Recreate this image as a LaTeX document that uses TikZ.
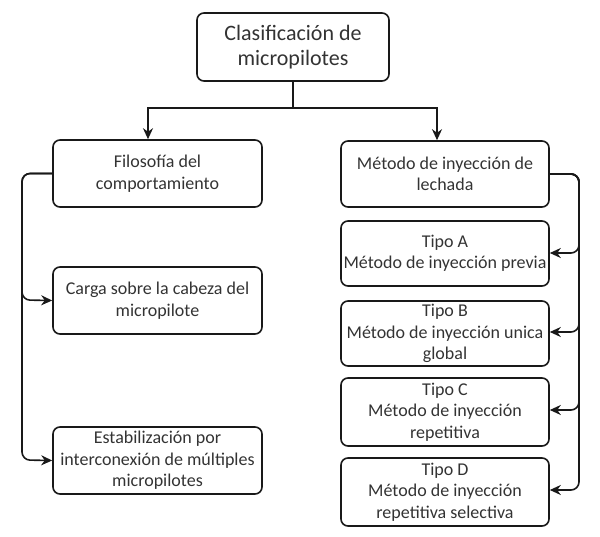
\documentclass[tikz,border=0pt]{standalone}
\usepackage{fontspec}
\setmainfont{Carlito}
\usetikzlibrary{arrows.meta}
\begin{document}
\begin{tikzpicture}[x=1pt,y=-1pt,
  box/.style={draw=black!90, line width=1.6pt, rounded corners=7pt, align=center, inner sep=0pt, font=\fontsize{18}{21.5}\selectfont, text=black!80},
  conn/.style={draw=black!90, line width=1.6pt, rounded corners=8pt, -{Stealth[length=11pt,width=10pt]}},
  link/.style={draw=black!90, line width=1.6pt}]
\useasboundingbox (0,0) rectangle (600,537);
\node[box, minimum width=192pt, minimum height=68pt, font=\fontsize{22}{25}\selectfont] (top) at (293,47) {Clasificación de\\micropilotes};
\node[box, minimum width=209pt, minimum height=67pt] (fil) at (157.5,173.5) {Filosofía del\\comportamiento};
\node[box, minimum width=209pt, minimum height=67pt] (car) at (157.5,300.5) {Carga sobre la cabeza del\\micropilote};
\node[box, minimum width=209pt, minimum height=67pt] (est) at (157.5,460.5) {Estabilización por\\interconexión de múltiples\\micropilotes};
\node[box, minimum width=208pt, minimum height=66pt] (met) at (445,174) {Método de inyección de\\lechada};
\node[box, minimum width=208pt, minimum height=65pt] (ta) at (445,253.5) {Tipo A\\Método de inyección previa};
\node[box, minimum width=208pt, minimum height=65pt] (tb) at (445,333.5) {Tipo B\\Método de inyección unica\\global};
\node[box, minimum width=208pt, minimum height=68pt] (tc) at (445,412) {Tipo C\\Método de inyección\\repetitiva};
\node[box, minimum width=208pt, minimum height=68pt] (td) at (445,492) {Tipo D\\Método de inyección\\repetitiva selectiva};
\coordinate (j) at (293,108);
\draw[link] (top.south) -- (j);
\draw[conn, rounded corners=0pt] (j) -| (148,140 |- fil.north);
\draw[conn, rounded corners=0pt] (j) -| (437,140 |- met.north);
% left bus
\draw[conn] (fil.west) -| (22,300) -- (car.west);
\draw[conn] (fil.west) -| (22,460) -- (est.west);
% right bus
\draw[conn] (met.east) -| (579,253) -- (ta.east |- 0,253);
\draw[conn] (met.east) -| (579,332) -- (tb.east |- 0,332);
\draw[conn] (met.east) -| (579,410) -- (tc.east |- 0,410);
\draw[conn] (met.east) -| (579,490) -- (td.east |- 0,490);
\end{tikzpicture}
\end{document}
